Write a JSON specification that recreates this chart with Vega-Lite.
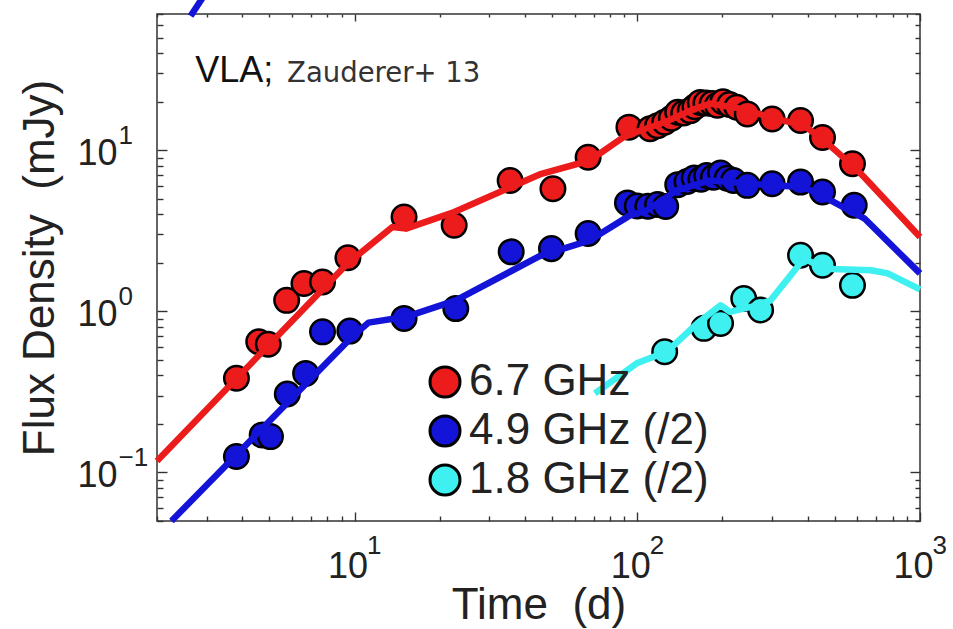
{
  "$schema": "https://vega.github.io/schema/vega-lite/v6.json",
  "width": 763,
  "height": 507,
  "autosize": {"type": "none"},
  "padding": {"left": 157, "top": 14, "right": 33, "bottom": 108},
  "background": "white",
  "config": {
    "view": {"stroke": "#333", "strokeWidth": 1.5},
    "axis": {
      "grid": false, "domain": false,
      "labelFont": "Liberation Sans", "titleFont": "Liberation Sans",
      "labelColor": "#222", "titleColor": "#222", "titleFontWeight": "normal",
      "tickColor": "#333", "tickWidth": 1.4,
      "labelFlush": false, "labelOverlap": false, "labelBound": false
    }
  },
  "datasets": {
    "pts": [
      {"band": "6.7 GHz", "t": 3.82, "flux": 0.384},
      {"band": "6.7 GHz", "t": 4.58, "flux": 0.647},
      {"band": "6.7 GHz", "t": 4.95, "flux": 0.625},
      {"band": "6.7 GHz", "t": 5.75, "flux": 1.17},
      {"band": "6.7 GHz", "t": 6.62, "flux": 1.49},
      {"band": "6.7 GHz", "t": 7.7, "flux": 1.52},
      {"band": "6.7 GHz", "t": 9.47, "flux": 2.15},
      {"band": "6.7 GHz", "t": 14.96, "flux": 3.85},
      {"band": "6.7 GHz", "t": 22.5, "flux": 3.42},
      {"band": "6.7 GHz", "t": 35.5, "flux": 6.49},
      {"band": "6.7 GHz", "t": 50.3, "flux": 5.77},
      {"band": "6.7 GHz", "t": 67.0, "flux": 9.05},
      {"band": "6.7 GHz", "t": 93.4, "flux": 13.9},
      {"band": "6.7 GHz", "t": 111, "flux": 13.6},
      {"band": "6.7 GHz", "t": 118, "flux": 14.2},
      {"band": "6.7 GHz", "t": 125, "flux": 14.9},
      {"band": "6.7 GHz", "t": 132, "flux": 15.8},
      {"band": "6.7 GHz", "t": 139, "flux": 17.2},
      {"band": "6.7 GHz", "t": 146, "flux": 17.0},
      {"band": "6.7 GHz", "t": 154, "flux": 17.6},
      {"band": "6.7 GHz", "t": 160, "flux": 18.6},
      {"band": "6.7 GHz", "t": 167, "flux": 19.8},
      {"band": "6.7 GHz", "t": 175, "flux": 19.6},
      {"band": "6.7 GHz", "t": 184, "flux": 19.5},
      {"band": "6.7 GHz", "t": 192, "flux": 19.0},
      {"band": "6.7 GHz", "t": 201, "flux": 20.0},
      {"band": "6.7 GHz", "t": 212, "flux": 19.2},
      {"band": "6.7 GHz", "t": 225, "flux": 18.5},
      {"band": "6.7 GHz", "t": 245, "flux": 16.8},
      {"band": "6.7 GHz", "t": 300, "flux": 15.6},
      {"band": "6.7 GHz", "t": 378, "flux": 15.3},
      {"band": "6.7 GHz", "t": 452, "flux": 12.0},
      {"band": "6.7 GHz", "t": 577, "flux": 8.24},
      {"band": "4.9 GHz (/2)", "t": 3.82, "flux": 0.1256},
      {"band": "4.9 GHz (/2)", "t": 4.71, "flux": 0.171},
      {"band": "4.9 GHz (/2)", "t": 5.04, "flux": 0.167},
      {"band": "4.9 GHz (/2)", "t": 5.78, "flux": 0.307},
      {"band": "4.9 GHz (/2)", "t": 6.71, "flux": 0.412},
      {"band": "4.9 GHz (/2)", "t": 7.7, "flux": 0.746},
      {"band": "4.9 GHz (/2)", "t": 9.62, "flux": 0.754},
      {"band": "4.9 GHz (/2)", "t": 14.96, "flux": 0.904},
      {"band": "4.9 GHz (/2)", "t": 22.8, "flux": 1.04},
      {"band": "4.9 GHz (/2)", "t": 35.8, "flux": 2.34},
      {"band": "4.9 GHz (/2)", "t": 49.7, "flux": 2.45},
      {"band": "4.9 GHz (/2)", "t": 67.0, "flux": 3.04},
      {"band": "4.9 GHz (/2)", "t": 92.3, "flux": 4.71},
      {"band": "4.9 GHz (/2)", "t": 100, "flux": 4.5},
      {"band": "4.9 GHz (/2)", "t": 109, "flux": 4.49},
      {"band": "4.9 GHz (/2)", "t": 118, "flux": 4.6},
      {"band": "4.9 GHz (/2)", "t": 126, "flux": 4.48},
      {"band": "4.9 GHz (/2)", "t": 139, "flux": 6.11},
      {"band": "4.9 GHz (/2)", "t": 150, "flux": 6.4},
      {"band": "4.9 GHz (/2)", "t": 159, "flux": 6.73},
      {"band": "4.9 GHz (/2)", "t": 168, "flux": 6.6},
      {"band": "4.9 GHz (/2)", "t": 176, "flux": 6.97},
      {"band": "4.9 GHz (/2)", "t": 186, "flux": 6.8},
      {"band": "4.9 GHz (/2)", "t": 197, "flux": 7.22},
      {"band": "4.9 GHz (/2)", "t": 208, "flux": 6.7},
      {"band": "4.9 GHz (/2)", "t": 219, "flux": 6.49},
      {"band": "4.9 GHz (/2)", "t": 245, "flux": 6.05},
      {"band": "4.9 GHz (/2)", "t": 300, "flux": 6.19},
      {"band": "4.9 GHz (/2)", "t": 378, "flux": 6.34},
      {"band": "4.9 GHz (/2)", "t": 452, "flux": 5.5},
      {"band": "4.9 GHz (/2)", "t": 585, "flux": 4.55},
      {"band": "1.8 GHz (/2)", "t": 125, "flux": 0.561},
      {"band": "1.8 GHz (/2)", "t": 172, "flux": 0.784},
      {"band": "1.8 GHz (/2)", "t": 197, "flux": 0.842},
      {"band": "1.8 GHz (/2)", "t": 238, "flux": 1.2},
      {"band": "1.8 GHz (/2)", "t": 273, "flux": 1.02},
      {"band": "1.8 GHz (/2)", "t": 378, "flux": 2.23},
      {"band": "1.8 GHz (/2)", "t": 452, "flux": 1.93},
      {"band": "1.8 GHz (/2)", "t": 577, "flux": 1.45}
    ],
    "lns": [
      {"band": "6.7 GHz", "seg": "r", "t": 2, "flux": 0.118},
      {"band": "6.7 GHz", "seg": "r", "t": 9.44, "flux": 1.98},
      {"band": "6.7 GHz", "seg": "r", "t": 13.6, "flux": 3.34},
      {"band": "6.7 GHz", "seg": "r", "t": 15.2, "flux": 3.26},
      {"band": "6.7 GHz", "seg": "r", "t": 22.5, "flux": 4.13},
      {"band": "6.7 GHz", "seg": "r", "t": 45.1, "flux": 7.07},
      {"band": "6.7 GHz", "seg": "r", "t": 67.9, "flux": 8.63},
      {"band": "6.7 GHz", "seg": "r", "t": 89.1, "flux": 12.0},
      {"band": "6.7 GHz", "seg": "r", "t": 102, "flux": 13.2},
      {"band": "6.7 GHz", "seg": "r", "t": 125, "flux": 14.9},
      {"band": "6.7 GHz", "seg": "r", "t": 154, "flux": 17.6},
      {"band": "6.7 GHz", "seg": "r", "t": 181, "flux": 19.5},
      {"band": "6.7 GHz", "seg": "r", "t": 232, "flux": 18.1},
      {"band": "6.7 GHz", "seg": "r", "t": 296, "flux": 16.0},
      {"band": "6.7 GHz", "seg": "r", "t": 389, "flux": 14.2},
      {"band": "6.7 GHz", "seg": "r", "t": 458, "flux": 11.5},
      {"band": "6.7 GHz", "seg": "r", "t": 585, "flux": 7.85},
      {"band": "6.7 GHz", "seg": "r", "t": 635, "flux": 6.8},
      {"band": "6.7 GHz", "seg": "r", "t": 1000, "flux": 2.89},
      {"band": "4.9 GHz (/2)", "seg": "b", "t": 2.25, "flux": 0.05},
      {"band": "4.9 GHz (/2)", "seg": "b", "t": 9.8, "flux": 0.695},
      {"band": "4.9 GHz (/2)", "seg": "b", "t": 11.2, "flux": 0.851},
      {"band": "4.9 GHz (/2)", "seg": "b", "t": 15.2, "flux": 0.925},
      {"band": "4.9 GHz (/2)", "seg": "b", "t": 22.8, "flux": 1.17},
      {"band": "4.9 GHz (/2)", "seg": "b", "t": 45.1, "flux": 2.2},
      {"band": "4.9 GHz (/2)", "seg": "b", "t": 67.9, "flux": 2.76},
      {"band": "4.9 GHz (/2)", "seg": "b", "t": 94.2, "flux": 3.94},
      {"band": "4.9 GHz (/2)", "seg": "b", "t": 108, "flux": 4.23},
      {"band": "4.9 GHz (/2)", "seg": "b", "t": 138, "flux": 5.63},
      {"band": "4.9 GHz (/2)", "seg": "b", "t": 181, "flux": 6.49},
      {"band": "4.9 GHz (/2)", "seg": "b", "t": 296, "flux": 6.05},
      {"band": "4.9 GHz (/2)", "seg": "b", "t": 389, "flux": 5.9},
      {"band": "4.9 GHz (/2)", "seg": "b", "t": 483, "flux": 4.88},
      {"band": "4.9 GHz (/2)", "seg": "b", "t": 635, "flux": 3.78},
      {"band": "4.9 GHz (/2)", "seg": "b", "t": 1000, "flux": 1.72},
      {"band": "4.9 GHz (/2)", "seg": "b2", "t": 2.63, "flux": 68},
      {"band": "4.9 GHz (/2)", "seg": "b2", "t": 2.92, "flux": 90},
      {"band": "1.8 GHz (/2)", "seg": "c", "t": 70.8, "flux": 0.31},
      {"band": "1.8 GHz (/2)", "seg": "c", "t": 99.5, "flux": 0.476},
      {"band": "1.8 GHz (/2)", "seg": "c", "t": 127, "flux": 0.561},
      {"band": "1.8 GHz (/2)", "seg": "c", "t": 163, "flux": 0.842},
      {"band": "1.8 GHz (/2)", "seg": "c", "t": 197, "flux": 1.09},
      {"band": "1.8 GHz (/2)", "seg": "c", "t": 213, "flux": 0.993},
      {"band": "1.8 GHz (/2)", "seg": "c", "t": 265, "flux": 1.09},
      {"band": "1.8 GHz (/2)", "seg": "c", "t": 296, "flux": 1.17},
      {"band": "1.8 GHz (/2)", "seg": "c", "t": 389, "flux": 2.13},
      {"band": "1.8 GHz (/2)", "seg": "c", "t": 458, "flux": 1.84},
      {"band": "1.8 GHz (/2)", "seg": "c", "t": 671, "flux": 1.8},
      {"band": "1.8 GHz (/2)", "seg": "c", "t": 769, "flux": 1.72},
      {"band": "1.8 GHz (/2)", "seg": "c", "t": 1000, "flux": 1.37}
    ]
  },
  "resolve": {
    "axis": {"x": "independent", "y": "independent"},
    "scale": {"color": "independent"},
    "legend": {"color": "independent"}
  },
  "layer": [
    {
      "data": {"name": "pts"},
      "mark": {"type": "point", "filled": true, "shape": "circle", "size": 600, "stroke": "black", "strokeWidth": 2.5, "opacity": 1},
      "encoding": {
        "x": {"field": "t", "type": "quantitative",
          "scale": {"type": "log", "domain": [2, 1000], "nice": false},
          "axis": {"orient": "bottom", "values": [10, 100, 1000], "ticks": false, "labelExpr": "'10'",
            "labelFontSize": 36, "labelPadding": 56, "labelBaseline": "alphabetic", "labelAlign": "center", "labelOffset": -7,
            "title": "Time\u00a0\u00a0(d)", "titleFontSize": 44, "titleY": 97, "titleBaseline": "alphabetic"}},
        "y": {"field": "flux", "type": "quantitative",
          "scale": {"type": "log", "domain": [0.05, 70], "nice": false},
          "axis": {"orient": "left", "values": [0.1, 1, 10], "ticks": false, "labelExpr": "'10'",
            "labelFontSize": 36, "labelPadding": 40, "labelAlign": "right", "labelBaseline": "alphabetic", "labelOffset": 14,
            "title": "Flux\u00a0Density\u00a0\u00a0(mJy)", "titleFontSize": 44, "titleX": -104, "titleBaseline": "alphabetic"}},
        "color": {"field": "band", "type": "nominal",
          "scale": {"domain": ["6.7 GHz", "4.9 GHz (/2)", "1.8 GHz (/2)"], "range": ["#ec1c1c", "#1414d8", "#3ef0f0"]},
          "legend": {"orient": "none", "legendX": 266, "legendY": 346, "title": null, "padding": 0,
            "labelFont": "Liberation Sans", "labelFontSize": 44, "labelColor": "#222", "labelOffset": 2, "labelLimit": 0,
            "symbolType": "circle", "symbolSize": 900, "symbolStrokeColor": "black", "symbolStrokeWidth": 3,
            "symbolOpacity": 1, "rowPadding": 5}}
      }
    },
    {
      "data": {"name": "lns"},
      "mark": {"type": "line", "strokeWidth": 6.5, "strokeJoin": "round"},
      "encoding": {
        "x": {"field": "t", "type": "quantitative",
          "scale": {"type": "log", "domain": [2, 1000], "nice": false},
          "axis": {"orient": "top", "values": [10, 100, 1000], "ticks": true, "labels": true, "labelExpr": "''", "title": null, "tickSize": 7, "offset": -7}},
        "y": {"field": "flux", "type": "quantitative",
          "scale": {"type": "log", "domain": [0.05, 70], "nice": false},
          "axis": {"orient": "right", "values": [0.1, 1, 10], "ticks": true, "labels": true, "labelExpr": "''", "title": null, "tickSize": 10, "offset": -10}},
        "color": {"field": "band", "type": "nominal",
          "scale": {"domain": ["6.7 GHz", "4.9 GHz (/2)", "1.8 GHz (/2)"], "range": ["#ec1c1c", "#1414d8", "#3ef0f0"]},
          "legend": null},
        "detail": {"field": "seg"}
      }
    },
    {
      "data": {"name": "pts"},
      "mark": {"type": "point", "opacity": 0},
      "encoding": {
        "x": {"field": "t", "type": "quantitative",
          "scale": {"type": "log", "domain": [2, 1000], "nice": false},
          "axis": {"orient": "bottom", "values": [10, 100, 1000], "ticks": true, "labels": true, "labelExpr": "''", "title": null, "tickSize": 9, "offset": -9}},
        "y": {"field": "flux", "type": "quantitative",
          "scale": {"type": "log", "domain": [0.05, 70], "nice": false},
          "axis": {"orient": "left", "values": [0.1, 1, 10], "ticks": true, "labels": true, "labelExpr": "''", "title": null, "tickSize": 10, "offset": -10}}
      }
    },
    {
      "data": {"name": "pts"},
      "mark": {"type": "point", "opacity": 0},
      "encoding": {
        "x": {"field": "t", "type": "quantitative",
          "scale": {"type": "log", "domain": [2, 1000], "nice": false},
          "axis": {"orient": "top", "values": [2,3,4,5,6,7,8,9,20,30,40,50,60,70,80,90,200,300,400,500,600,700,800,900],
            "ticks": true, "labels": true, "labelExpr": "''", "title": null, "tickSize": 3, "offset": -3}},
        "y": {"field": "flux", "type": "quantitative",
          "scale": {"type": "log", "domain": [0.05, 70], "nice": false},
          "axis": {"orient": "right", "values": [0.05,0.06,0.07,0.08,0.09,0.2,0.3,0.4,0.5,0.6,0.7,0.8,0.9,2,3,4,5,6,7,8,9,20,30,40,50,60,70],
            "ticks": true, "labels": true, "labelExpr": "''", "title": null, "tickSize": 5, "offset": -5}}
      }
    },
    {
      "data": {"name": "pts"},
      "mark": {"type": "point", "opacity": 0},
      "encoding": {
        "x": {"field": "t", "type": "quantitative",
          "scale": {"type": "log", "domain": [2, 1000], "nice": false},
          "axis": {"orient": "bottom", "values": [2,3,4,5,6,7,8,9,20,30,40,50,60,70,80,90,200,300,400,500,600,700,800,900],
            "ticks": true, "labels": true, "labelExpr": "''", "title": null, "tickSize": 5, "offset": -5}},
        "y": {"field": "flux", "type": "quantitative",
          "scale": {"type": "log", "domain": [0.05, 70], "nice": false},
          "axis": {"orient": "left", "values": [0.05,0.06,0.07,0.08,0.09,0.2,0.3,0.4,0.5,0.6,0.7,0.8,0.9,2,3,4,5,6,7,8,9,20,30,40,50,60,70],
            "ticks": true, "labels": true, "labelExpr": "''", "title": null, "tickSize": 6, "offset": -6}}
      }
    },
    {
      "data": {"name": "pts"},
      "mark": {"type": "point", "opacity": 0},
      "encoding": {
        "x": {"field": "t", "type": "quantitative",
          "scale": {"type": "log", "domain": [2, 1000], "nice": false},
          "axis": {"orient": "bottom", "values": [10, 100, 1000], "ticks": false, "title": null,
            "labelExpr": "datum.value==10?'1':datum.value==100?'2':'3'",
            "labelFontSize": 26, "labelPadding": 32, "labelBaseline": "alphabetic", "labelAlign": "left", "labelOffset": 12}},
        "y": {"field": "flux", "type": "quantitative",
          "scale": {"type": "log", "domain": [0.05, 70], "nice": false},
          "axis": {"orient": "left", "values": [0.1, 1, 10], "ticks": false, "title": null,
            "labelExpr": "datum.value==10?'1':datum.value==1?'0':'\u22121'",
            "labelFontSize": 26, "labelPadding": 39, "labelAlign": "left", "labelBaseline": "alphabetic", "labelOffset": -7}}
      }
    },
    {
      "data": {"values": [{}]},
      "mark": {"type": "text", "text": "VLA;", "font": "Liberation Sans", "fontSize": 36, "align": "left", "baseline": "alphabetic", "color": "#111"},
      "encoding": {
        "x": {"datum": 2.73, "type": "quantitative", "scale": {"type": "log", "domain": [2, 1000], "nice": false}, "axis": null},
        "y": {"datum": 26.5, "type": "quantitative", "scale": {"type": "log", "domain": [0.05, 70], "nice": false}, "axis": null}
      }
    },
    {
      "data": {"values": [{}]},
      "mark": {"type": "text", "text": "Zauderer+ 13", "font": "DejaVu Sans", "fontSize": 27.5, "align": "left", "baseline": "alphabetic", "color": "#333"},
      "encoding": {
        "x": {"datum": 5.77, "type": "quantitative", "scale": {"type": "log", "domain": [2, 1000], "nice": false}, "axis": null},
        "y": {"datum": 26.5, "type": "quantitative", "scale": {"type": "log", "domain": [0.05, 70], "nice": false}, "axis": null}
      }
    }
  ]
}
